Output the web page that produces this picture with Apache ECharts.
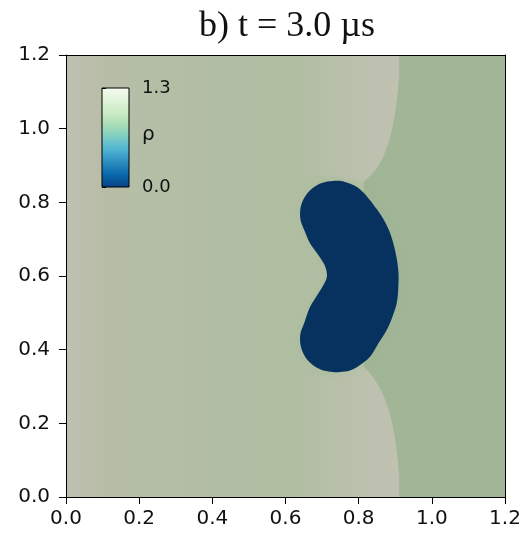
<!DOCTYPE html>
<html><head><meta charset="utf-8">
<script src="https://cdn.jsdelivr.net/npm/echarts@6/dist/echarts.min.js"></script>
<style>html,body{margin:0;padding:0;background:#fff}#c{width:528px;height:537px}</style>
</head><body><div id="c"></div><script>
// ---------------- data ----------------
const titleText = 'b) t = 3.0 µs';
const xRange = [0, 1.2];
const yRange = [0, 1.2];
const tickStep = 0.2;
const rhoRange = [0.0, 1.3];
const colorbarName = 'ρ';

// low-density bubble (rho ~ 0) outline, data coords (clockwise from top)
const kidneyX = [0.7298,0.7626,0.8050,0.8500,0.8802,0.8980,0.9083,0.9083,0.9040,0.8911,0.8766,0.8529,0.8310,0.8037,0.7763,0.7490,0.7298,0.6990,0.6719,0.6517,0.6410,0.6410,0.6517,0.6670,0.6888,0.7052,0.7134,0.7080,0.6916,0.6670,0.6517,0.6410,0.6410,0.6517,0.6719,0.6990];
const kidneyY = [0.8579,0.8552,0.8345,0.7810,0.7303,0.6760,0.6163,0.5674,0.5259,0.4860,0.4534,0.4154,0.3809,0.3584,0.3434,0.3394,0.3394,0.3448,0.3603,0.3842,0.4135,0.4444,0.4738,0.5158,0.5511,0.5783,0.6000,0.6272,0.6543,0.6888,0.7235,0.7529,0.7838,0.8131,0.8370,0.8525];

// shock front (upper branch top->bubble, lower branch bubble->bottom)
const frontTopX = [0.911,0.911,0.907,0.901,0.892,0.881,0.866,0.848,0.830,0.815];
const frontTopY = [1.2,1.15,1.10,1.05,1.00,0.96,0.92,0.89,0.87,0.856];
const frontBotX = [0.815,0.832,0.850,0.866,0.881,0.892,0.901,0.907,0.911,0.911];
const frontBotY = [0.354,0.335,0.31,0.28,0.24,0.20,0.15,0.10,0.05,0.0];

// ambient field sample positions along x
const fieldX = [0, 0.02, 0.1, 0.3, 0.6, 0.75, 0.911];

// ---------------- styles ----------------
const fieldColors = ['#c1c0b1','#bebfae','#b7bea8','#b3bea5','#b0bea2','#b3bfa5','#b6c0a8'];
const bowColor = [192,193,177];
const postShock = '#a1b597';
const bubbleColor = '#07325f';
const gnbu = ['#084081','#0868ac','#2b8cbe','#4eb3d3','#7bccc4','#a8ddb5','#ccebc5','#e0f3db','#f7fcf0'];
const txt = '#111';
const font = 'DejaVu Sans';

const chart = echarts.init(document.getElementById('c'), null, {renderer:'canvas'});

function polygonSeries(xs, ys, styleFn) {
  return {
    type:'custom', coordinateSystem:'cartesian2d', xAxisIndex:0, yAxisIndex:0,
    silent:true, clip:true, data:[[xs[0], ys[0]]],
    renderItem:(params, api) => {
      const pts = xs.map((x,i) => api.coord([x, ys[i]]));
      return {type:'polygon', shape:{points:pts}, style:styleFn(api)};
    }
  };
}

// closed smooth outline through the points (cubic Bezier, Catmull-Rom tangents)
function closedCurvePath(pts){
  const n = pts.length, f = v => v.toFixed(2);
  let d = 'M' + f(pts[0][0]) + ' ' + f(pts[0][1]);
  for (let i = 0; i < n; i++) {
    const p0 = pts[(i-1+n)%n], p1 = pts[i], p2 = pts[(i+1)%n], p3 = pts[(i+2)%n];
    const c1 = [p1[0] + (p2[0]-p0[0])/6, p1[1] + (p2[1]-p0[1])/6];
    const c2 = [p2[0] - (p3[0]-p1[0])/6, p2[1] - (p3[1]-p1[1])/6];
    d += 'C' + [c1[0],c1[1],c2[0],c2[1],p2[0],p2[1]].map(f).join(' ');
  }
  return d + 'Z';
}

// background field (left of shock)
const fieldPolyX = [xRange[0], xRange[1], xRange[1], xRange[0]];
const fieldPolyY = [yRange[0], yRange[0], yRange[1], yRange[1]];
const fieldSeries = polygonSeries(fieldPolyX, fieldPolyY, api => {
  const p0 = api.coord([fieldX[0], 0]), p1 = api.coord([fieldX[fieldX.length-1], 0]);
  const span = fieldX[fieldX.length-1] - fieldX[0];
  return {fill:new echarts.graphic.LinearGradient(p0[0],0,p1[0],0,
    fieldX.map((x,i)=>({offset:(x-fieldX[0])/span, color:fieldColors[i]})), true)};
});

// light bows just behind the shock front
function bowStyle(api){
  const a = api.coord([0.62,0]), b = api.coord([0.89,0]);
  const c = bowColor.join(',');
  return {fill:new echarts.graphic.LinearGradient(a[0],0,b[0],0,[
    {offset:0,color:'rgba('+c+',0)'},{offset:0.6,color:'rgba('+c+',0.5)'},{offset:1,color:'rgba('+c+',1)'}], true)};
}
const bowTopX = [0.6].concat(frontTopX, [0.75,0.66,0.6]);
const bowTopY = [yRange[1]].concat(frontTopY, [0.865,0.875,0.9]);
const bowBotX = [0.6,0.66,0.75].concat(frontBotX, [0.6]);
const bowBotY = [0.3,0.325,0.335].concat(frontBotY, [yRange[0]]);

// post-shock region
const greenX = [xRange[1], xRange[1]].concat(frontBotX.slice().reverse(), [0.80], frontTopX.slice().reverse());
const greenY = [yRange[1], yRange[0]].concat(frontBotY.slice().reverse(), [0.6], frontTopY.slice().reverse());

const kidneySeries = {
  type:'custom', coordinateSystem:'cartesian2d', xAxisIndex:0, yAxisIndex:0,
  silent:true, clip:true, data:[[kidneyX[0], kidneyY[0]]],
  renderItem:(params, api) => {
    const pts = kidneyX.map((x,i) => api.coord([x, kidneyY[i]]));
    return {type:'path', shape:{pathData:closedCurvePath(pts)},
      style:{fill:bubbleColor, shadowBlur:10, shadowColor:'rgba(150,188,140,0.35)'}};
  }
};

const option = {
  animation:false,
  backgroundColor:'#fff',
  title:{text:titleText, left:199, top:9, padding:0, textStyle:{fontFamily:'Liberation Serif', fontSize:36, fontWeight:'normal', color:txt}},
  grid:[
    {left:66, top:55, width:439, height:442, show:false},
    {left:102, top:88, width:27, height:99, show:false}
  ],
  xAxis:[
    {type:'value', gridIndex:0, min:xRange[0], max:xRange[1], interval:tickStep, position:'bottom', z:10,
     axisLine:{show:true, onZero:false, lineStyle:{color:'#000', width:1}},
     axisTick:{show:true, inside:false, length:7, lineStyle:{color:'#000'}},
     axisLabel:{margin:12, fontSize:20, fontFamily:font, color:txt, formatter:v=>v.toFixed(1)},
     splitLine:{show:false}},
    {type:'value', gridIndex:0, min:xRange[0], max:xRange[1], position:'top', z:10,
     axisLine:{show:true, onZero:false, lineStyle:{color:'#000', width:1}},
     axisTick:{show:false}, axisLabel:{show:false}, splitLine:{show:false}},
    {type:'value', gridIndex:1, min:0, max:1, show:false}
  ],
  yAxis:[
    {type:'value', gridIndex:0, min:yRange[0], max:yRange[1], interval:tickStep, position:'left', z:10,
     axisLine:{show:true, onZero:false, lineStyle:{color:'#000', width:1}},
     axisTick:{show:true, inside:false, length:7, lineStyle:{color:'#000'}},
     axisLabel:{margin:16, fontSize:20, fontFamily:font, color:txt, formatter:v=>v.toFixed(1)},
     splitLine:{show:false}},
    {type:'value', gridIndex:0, min:yRange[0], max:yRange[1], position:'right', z:10,
     axisLine:{show:true, onZero:false, lineStyle:{color:'#000', width:1}},
     axisTick:{show:false}, axisLabel:{show:false}, splitLine:{show:false}},
    {type:'value', gridIndex:1, min:rhoRange[0], max:rhoRange[1], interval:rhoRange[1]-rhoRange[0], position:'right', z:10,
     axisLine:{show:false},
     axisTick:{show:true, inside:false, length:4, lineStyle:{color:'#000'}},
     axisLabel:{margin:13, fontSize:18, fontFamily:font, color:txt, formatter:v=>v.toFixed(1)},
     splitLine:{show:false}}
  ],
  series:[
    fieldSeries,
    polygonSeries(bowTopX, bowTopY, bowStyle),
    polygonSeries(bowBotX, bowBotY, bowStyle),
    polygonSeries(greenX, greenY, ()=>({fill:postShock})),
    kidneySeries,
    {type:'custom', coordinateSystem:'cartesian2d', xAxisIndex:2, yAxisIndex:2, silent:true,
     data:[[0, rhoRange[0]]],
     renderItem:(params, api)=>{
       const a = api.coord([0, rhoRange[0]]), b = api.coord([1, rhoRange[1]]);
       const mid = api.coord([1, (rhoRange[0]+rhoRange[1])/2]);
       return {type:'group', children:[
         {type:'rect', shape:{x:a[0], y:b[1], width:b[0]-a[0], height:a[1]-b[1]},
          style:{stroke:'#000', lineWidth:1,
            fill:new echarts.graphic.LinearGradient(0,1,0,0, gnbu.map((c,i)=>({offset:i/(gnbu.length-1), color:c})))}},
         {type:'text', x:mid[0]+13, y:mid[1]-3,
          style:{text:colorbarName, fontSize:20, fontFamily:font, fill:txt, align:'left', verticalAlign:'middle'}}
       ]};
     }}
  ]
};
chart.setOption(option);
</script></body></html>
